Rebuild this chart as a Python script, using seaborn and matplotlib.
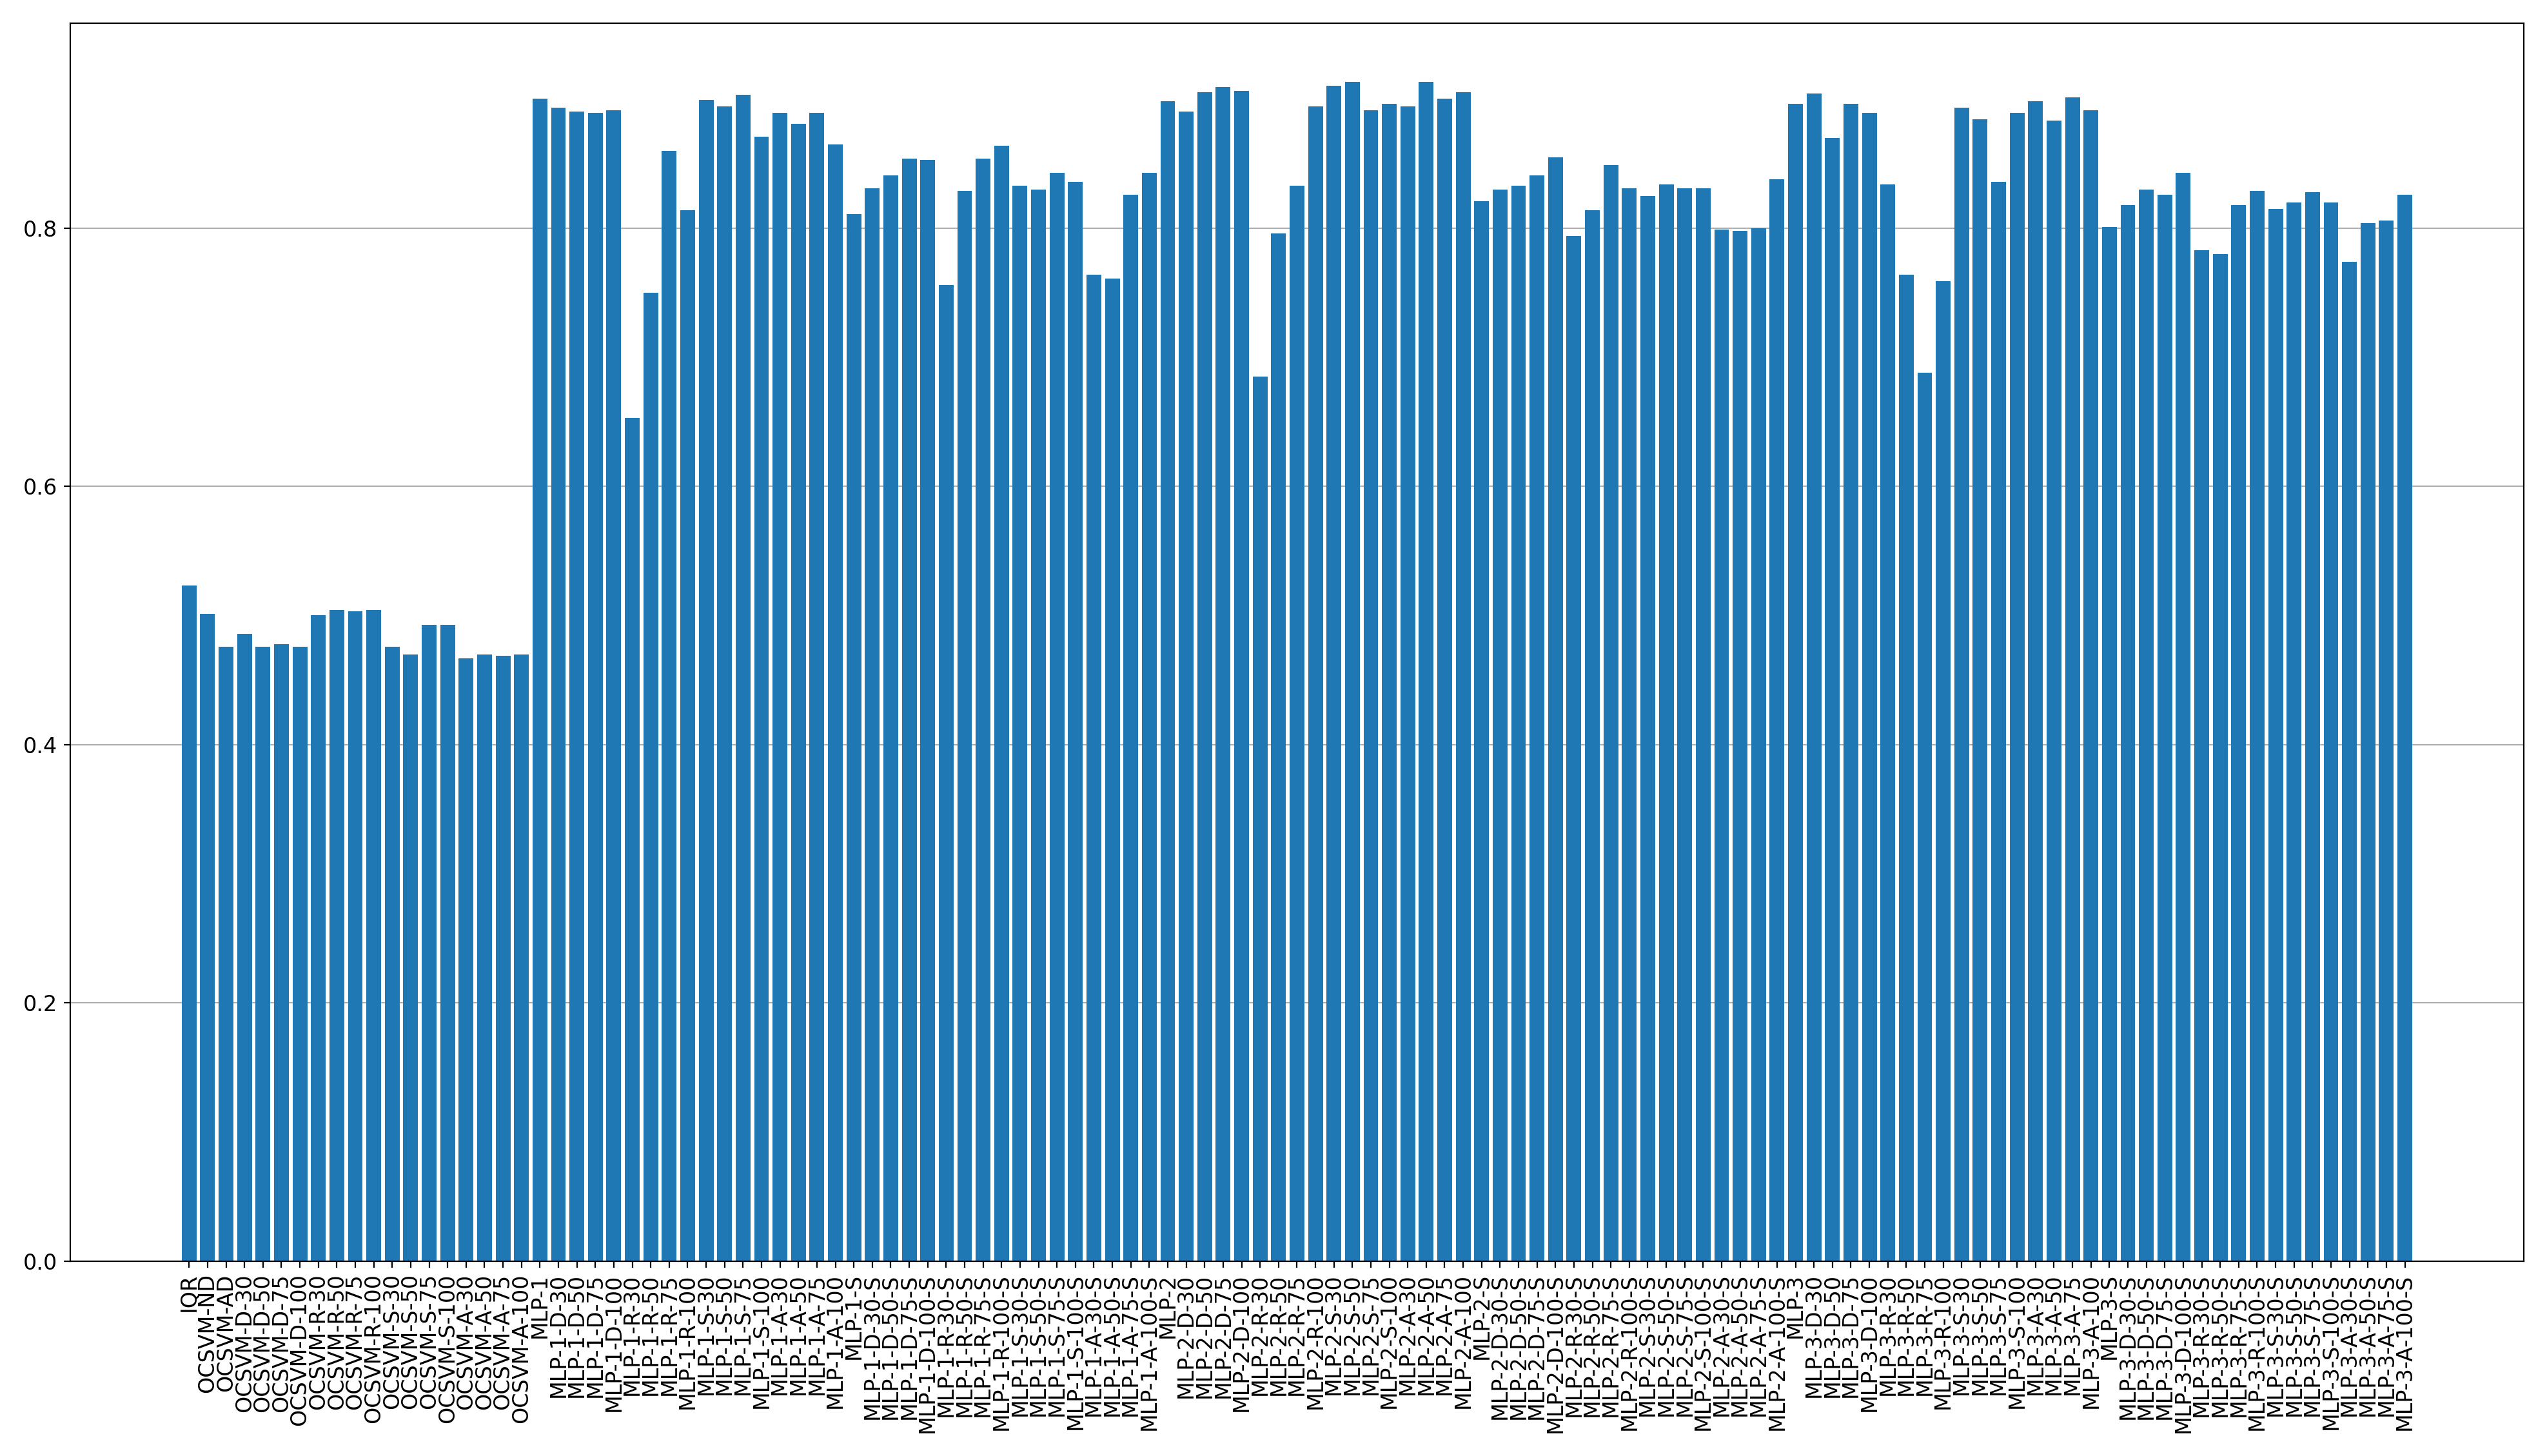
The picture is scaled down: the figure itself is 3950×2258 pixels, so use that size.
import matplotlib
matplotlib.use('Agg')
import seaborn as sns
import matplotlib.pyplot as plt
import pandas as pd

ocsvm_labels = ['IQR', 'OCSVM-ND', 'OCSVM-AD'] + ['OCSVM-%s-%d' % (k, n) for k in 'DRSA' for n in (30, 50, 75, 100)]
ocsvm_values = [0.523, 0.501, 0.476, 0.486, 0.476, 0.478, 0.476, 0.500, 0.504, 0.503, 0.504,
                0.476, 0.470, 0.493, 0.493, 0.467, 0.470, 0.469, 0.470]


def mlp_labels(depth, suffix):
    base = 'MLP-%d' % depth
    return [base + suffix] + ['%s-%s-%d%s' % (base, k, n, suffix) for k in 'DRSA' for n in (30, 50, 75, 100)]


mlp1 = [0.900, 0.893, 0.890, 0.889, 0.891, 0.653, 0.750, 0.860, 0.814, 0.899, 0.894, 0.903, 0.871, 0.889, 0.881, 0.889, 0.865]
mlp1_s = [0.811, 0.831, 0.841, 0.854, 0.853, 0.756, 0.829, 0.854, 0.864, 0.833, 0.830, 0.843, 0.836, 0.764, 0.761, 0.826, 0.843]
mlp2 = [0.898, 0.890, 0.905, 0.909, 0.906, 0.685, 0.796, 0.833, 0.894, 0.910, 0.913, 0.891, 0.896, 0.894, 0.913, 0.900, 0.905]
mlp2_s = [0.821, 0.830, 0.833, 0.841, 0.855, 0.794, 0.814, 0.849, 0.831, 0.825, 0.834, 0.831, 0.831, 0.799, 0.798, 0.800, 0.838]
mlp3 = [0.896, 0.904, 0.870, 0.896, 0.889, 0.834, 0.764, 0.688, 0.759, 0.893, 0.884, 0.836, 0.889, 0.898, 0.883, 0.901, 0.891]
mlp3_s = [0.801, 0.818, 0.830, 0.826, 0.843, 0.783, 0.780, 0.818, 0.829, 0.815, 0.820, 0.828, 0.820, 0.774, 0.804, 0.806, 0.826]

labels = list(ocsvm_labels)
values = list(ocsvm_values)
for d, (plain, s) in zip((1, 2, 3), ((mlp1, mlp1_s), (mlp2, mlp2_s), (mlp3, mlp3_s))):
    labels += mlp_labels(d, '') + mlp_labels(d, '-S')
    values += plain + s

df = pd.DataFrame({'model': labels, 'score': values})

plt.rcParams['font.size'] = 12
fig, ax = plt.subplots(figsize=(19.75, 11.29), dpi=200)
sns.barplot(data=df, x='model', y='score', color='#1f77b4', saturation=1, width=0.8, ax=ax)
n = len(labels)
ax.set_xlim(-0.4 - 0.05 * (n - 0.2), n - 0.6 + 0.05 * (n - 0.2))
ax.set_ylim(0, max(values) * 1.05)
ax.yaxis.grid(True, color='#b0b0b0')
ax.set_axisbelow(True)
ax.set_xlabel('')
ax.set_ylabel('')
ax.tick_params(axis='both', labelsize=12)
ax.tick_params(axis='x', rotation=90)
fig.tight_layout()
fig.savefig('out.png')
